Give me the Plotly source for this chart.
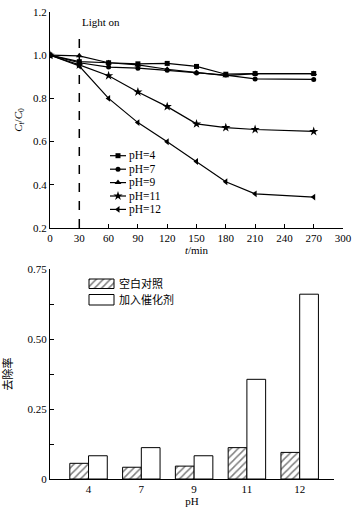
import plotly.graph_objects as go

# ---------------- data ----------------
time_min = [0, 30, 60, 90, 120, 150, 180, 210, 270]
series_names = ["pH=4", "pH=7", "pH=9", "pH=11", "pH=12"]
ph4 = [1.0, 0.97, 0.965, 0.96, 0.962, 0.948, 0.912, 0.915, 0.915]
ph7 = [1.0, 0.965, 0.945, 0.94, 0.93, 0.918, 0.908, 0.89, 0.888]
ph9 = [1.0, 0.997, 0.965, 0.955, 0.935, 0.92, 0.905, 0.915, 0.915]
ph11 = [1.0, 0.955, 0.905, 0.83, 0.762, 0.682, 0.665, 0.656, 0.647]
ph12 = [1.0, 0.95, 0.80, 0.688, 0.599, 0.508, 0.414, 0.358, 0.343]
series_values = [ph4, ph7, ph9, ph11, ph12]
series_symbols = ["square", "circle", "triangle-up", "star", "triangle-left"]
series_sizes = [5, 5, 6, 7, 6]

ph_categories = ["4", "7", "9", "11", "12"]
blank_control = [0.056, 0.042, 0.046, 0.112, 0.095]
with_catalyst = [0.083, 0.112, 0.083, 0.356, 0.660]
bar_names = ["空白对照", "加入催化剂"]

top_yticks = [0.2, 0.4, 0.6, 0.8, 1.0, 1.2]
top_xticks = [0, 30, 60, 90, 120, 150, 180, 210, 240, 270, 300]
bot_yticks = [0, 0.25, 0.50, 0.75]
bot_yticklabels = ["0", "0.25", "0.50", "0.75"]

# ---------------- layout helpers ----------------
W, H = 356, 512
SERIF = "Liberation Serif, Times New Roman, serif"
CJK = "Liberation Serif, Noto Sans CJK SC, serif"

def xd(a, b):
    return [a / W, b / W]

def yd(top, bottom):
    return [(H - bottom) / H, (H - top) / H]

TOP_X = (50, 343)
TOP_Y = (12, 228)
BOT_X = (50, 334)
BOT_Y = (269, 479)

fig = go.Figure()

# ---------------- top line chart ----------------
for name, vals, sym, sz in zip(series_names, series_values, series_symbols, series_sizes):
    fig.add_trace(go.Scatter(
        x=time_min, y=vals, mode="lines+markers", name=name,
        line=dict(color="black", width=1.2),
        marker=dict(symbol=sym, size=sz, color="black"),
        xaxis="x", yaxis="y", showlegend=False))

# custom legend for top chart (reference-pixel overlay)
leg_y = [155.7, 169.2, 182.6, 196.0, 209.4]
for name, sym, sz, ly in zip(series_names, series_symbols, series_sizes, leg_y):
    fig.add_trace(go.Scatter(
        x=[110, 118, 126], y=[ly, ly, ly], mode="lines+markers",
        line=dict(color="black", width=1.2),
        marker=dict(symbol=sym, size=sz, color="black", opacity=[0, 1, 0]),
        xaxis="x3", yaxis="y3", showlegend=False, hoverinfo="skip"))
    fig.add_annotation(x=127, y=ly, xref="x3", yref="y3", text=name,
                       showarrow=False, xanchor="left", yanchor="middle",
                       font=dict(family=SERIF, size=11.5, color="black"))

# ---------------- bottom bar chart ----------------
fig.add_trace(go.Bar(
    x=ph_categories, y=blank_control, name=bar_names[0],
    marker=dict(color="white", line=dict(color="black", width=1),
                pattern=dict(shape="/", fgcolor="black", bgcolor="white",
                             size=5, solidity=0.3)),
    xaxis="x2", yaxis="y2", showlegend=False))
fig.add_trace(go.Bar(
    x=ph_categories, y=with_catalyst, name=bar_names[1],
    marker=dict(color="white", line=dict(color="black", width=1)),
    xaxis="x2", yaxis="y2", showlegend=False))

# custom legend for bar chart (reference-pixel overlay)
fig.add_trace(go.Bar(
    x=[101.5, 101.5], y=[9.5, 10.5], base=[279, 294.5], width=[25, 25],
    marker=dict(color="white", line=dict(color="black", width=1),
                pattern=dict(shape=["/", ""], fgcolor="black", bgcolor="white",
                             size=5, solidity=0.3)),
    xaxis="x4", yaxis="y4", showlegend=False, hoverinfo="skip"))
for name, ly in zip(bar_names, [283.8, 299.8]):
    fig.add_annotation(x=117, y=ly, xref="x4", yref="y4", text=name,
                       showarrow=False, xanchor="left", yanchor="middle",
                       font=dict(family=CJK, size=11, color="black"))

# ---------------- light on marker ----------------
fig.add_shape(type="line", xref="x", yref="y", x0=30, x1=30, y0=0.2, y1=1.115,
              line=dict(color="black", width=1.5, dash="dash"))
fig.add_annotation(x=30, y=1.155, xref="x", yref="y", text="Light on",
                   showarrow=False, xanchor="left", yanchor="middle", xshift=1,
                   font=dict(family=SERIF, size=11, color="black"))

axis_common = dict(showline=True, linecolor="black", linewidth=1, showgrid=False,
                   zeroline=False, ticks="inside", tickcolor="black", automargin=False,
                   tickfont=dict(family=SERIF, size=11, color="black"))

fig.update_layout(
    width=W, height=H, margin=dict(l=0, r=0, t=0, b=0, autoexpand=False),
    paper_bgcolor="white", plot_bgcolor="white",
    barmode="group", bargap=0.29, bargroupgap=0,
    showlegend=False,
    xaxis=dict(domain=xd(*TOP_X), anchor="y", range=[0, 300], tickvals=top_xticks,
               ticklen=4, **axis_common,
               title=dict(text="<i>t</i>/min", font=dict(family=SERIF, size=11, color="black"),
                          standoff=0)),
    yaxis=dict(domain=yd(*TOP_Y), anchor="x", range=[0.2, 1.2], tickvals=top_yticks,
               tickformat=".1f", ticklen=4, **axis_common,
               title=dict(text="<i>C</i><sub><i>t</i></sub>/<i>C</i><sub>0</sub>",
                          font=dict(family=SERIF, size=11, color="black"), standoff=8)),
    xaxis2=dict(domain=xd(*BOT_X), anchor="y2", range=[-0.73, 4.65], type="category",
                showline=True, linecolor="black", linewidth=1, showgrid=False,
                zeroline=False, ticks="", automargin=False,
                tickfont=dict(family=SERIF, size=11, color="black"),
                title=dict(text="pH", font=dict(family=SERIF, size=11, color="black"),
                           standoff=0)),
    yaxis2=dict(domain=yd(*BOT_Y), anchor="x2", range=[0, 0.75], tickvals=bot_yticks,
                ticktext=bot_yticklabels, ticklen=4, **axis_common,
                minor=dict(ticks="inside", dtick=0.125, ticklen=4, tickcolor="black"),
                title=dict(text="去除率", font=dict(family=CJK, size=11, color="black"),
                           standoff=12)),
    xaxis3=dict(domain=xd(*TOP_X), anchor="y3", overlaying="x", range=[TOP_X[0], TOP_X[1]],
                visible=False),
    yaxis3=dict(domain=yd(*TOP_Y), anchor="x3", overlaying="y", range=[TOP_Y[1], TOP_Y[0]],
                visible=False),
    xaxis4=dict(domain=xd(*BOT_X), anchor="y4", overlaying="x2", range=[BOT_X[0], BOT_X[1]],
                visible=False),
    yaxis4=dict(domain=yd(*BOT_Y), anchor="x4", overlaying="y2", range=[BOT_Y[1], BOT_Y[0]],
                visible=False),
)

fig.write_html("out.html",
               config={"displayModeBar": False},
               post_script="document.body.style.margin='0px';document.body.style.overflow='hidden';")
